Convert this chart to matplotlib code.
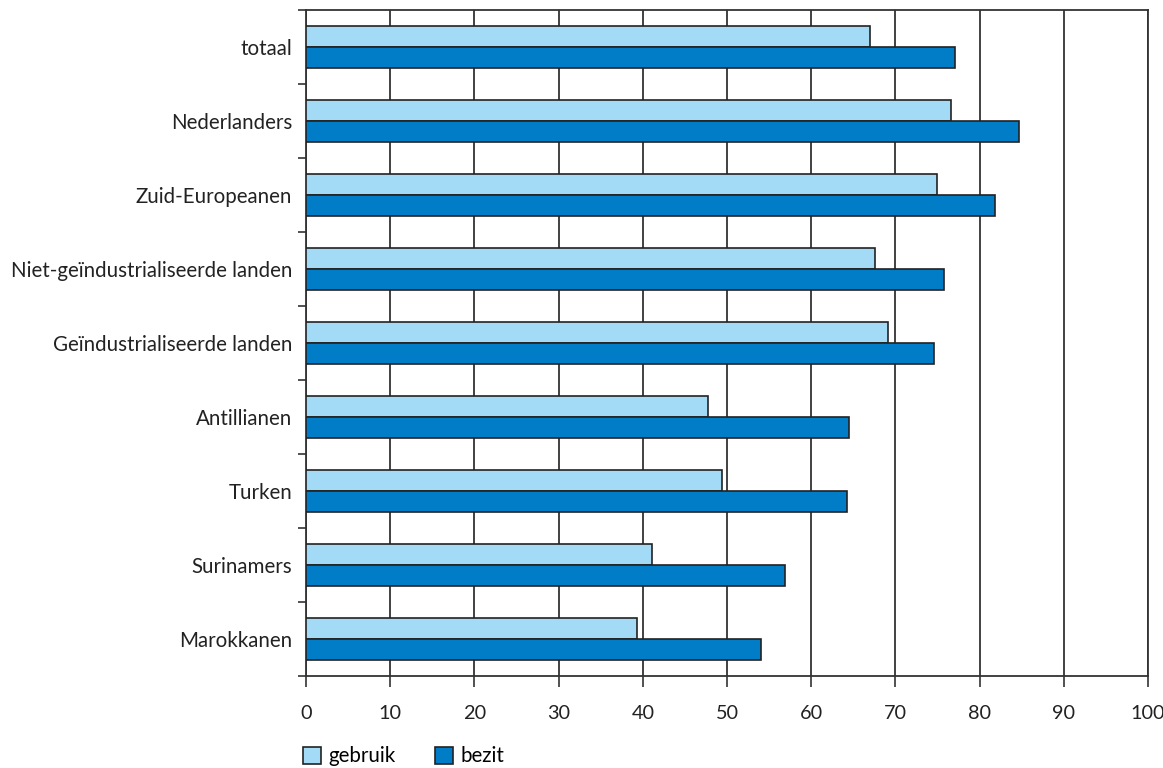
import numpy as np
import matplotlib.pyplot as plt
from matplotlib.patches import Patch

plt.rcParams["font.family"] = ["Lato", "DejaVu Sans"]

categories = [
    "totaal",
    "Nederlanders",
    "Zuid-Europeanen",
    "Niet-geïndustrialiseerde landen",
    "Geïndustrialiseerde landen",
    "Antillianen",
    "Turken",
    "Surinamers",
    "Marokkanen",
]
gebruik = [67.0, 76.6, 74.9, 67.6, 69.1, 47.7, 49.4, 41.1, 39.3]
bezit = [77.1, 84.7, 81.8, 75.8, 74.6, 64.5, 64.3, 56.9, 54.0]

LIGHT = "#a3dbf6"
DARK = "#007dc6"
EDGE = "#222222"

fig = plt.figure(figsize=(11.63, 7.68), dpi=100)
ax = fig.add_axes([306 / 1163, 1 - 676 / 768, (1148 - 306) / 1163, (676 - 10) / 768])

y = np.arange(len(categories))
h = 0.284
ax.barh(y - h / 2, gebruik, height=h, color=LIGHT, edgecolor=EDGE, linewidth=1.2, zorder=3)
ax.barh(y + h / 2, bezit, height=h, color=DARK, edgecolor=EDGE, linewidth=1.2, zorder=3)

ax.set_xlim(0, 100)
ax.set_ylim(len(categories) - 0.5, -0.5)
ax.set_xticks(np.arange(0, 101, 10))
ax.set_yticks(y)
ax.set_yticklabels(categories)
ax.set_yticks(np.arange(-0.5, len(categories), 1), minor=True)
ax.tick_params(axis="y", which="major", length=0, pad=10, labelsize=14.8, colors="#222222")
ax.tick_params(axis="y", which="minor", length=6, width=1.2, color="#333333")
ax.tick_params(axis="x", length=8, width=1.2, color="#333333", pad=13, labelsize=14.3,
               labelcolor="#222222")

ax.xaxis.grid(True, color="#333333", linewidth=1.3, zorder=0)
ax.set_axisbelow(True)
for side in ["top", "bottom", "left", "right"]:
    ax.spines[side].set_color("#333333")
    ax.spines[side].set_linewidth(1.3)

handles = [
    Patch(facecolor=LIGHT, edgecolor=EDGE, linewidth=1.2, label="gebruik"),
    Patch(facecolor=DARK, edgecolor=EDGE, linewidth=1.2, label="bezit"),
]
fig.legend(handles=handles, loc="lower left", bbox_to_anchor=(284 / 1163, -0.022), ncol=2,
           frameon=False, fontsize=14.8, handlelength=0.9, handleheight=0.9,
           handletextpad=0.35, columnspacing=1.9)

fig.savefig("out.png", dpi=100)
